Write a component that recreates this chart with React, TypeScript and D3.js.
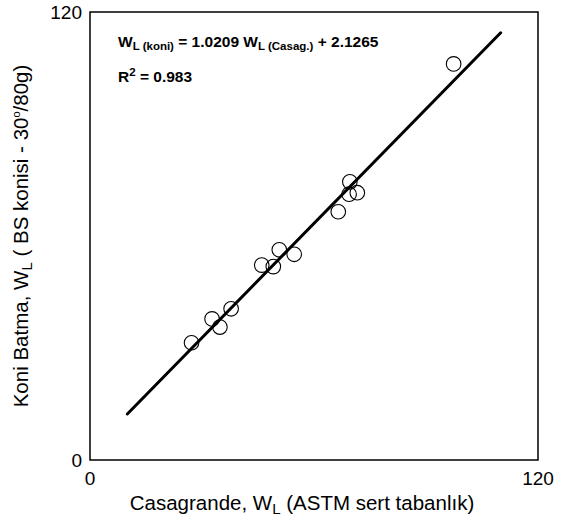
import React from "react";
import * as d3 from "d3";

// Liquid limit pairs: Casagrande cup (x) vs. BS fall cone (y)
const casagrande = [27.2, 32.7, 34.8, 37.8, 46.0, 49.1, 50.7, 54.7, 66.5, 69.4, 69.6, 71.6, 97.4];
const koni = [31.4, 37.8, 35.6, 40.5, 52.2, 51.8, 56.3, 55.1, 66.5, 71.2, 74.5, 71.6, 106.1];

// Regression fit
const slope = 1.0209;
const intercept = 2.1265;
const fitRange = [10, 110];

const axisDomain = [0, 120];
const xTicks = [0, 120];
const yTicks = [0, 120];

const W = 561;
const H = 526;
const frame = { left: 90, right: 538, top: 12, bottom: 460 };
const font = "'Liberation Sans', Arial, sans-serif";

export default function App() {
  const x = d3.scaleLinear().domain(axisDomain).range([frame.left, frame.right]);
  const y = d3.scaleLinear().domain(axisDomain).range([frame.bottom, frame.top]);

  const fitLine = d3
    .line<number>()
    .x((d) => x(d))
    .y((d) => y(slope * d + intercept))(fitRange);

  return (
    <svg
      width={W}
      height={H}
      style={{ position: "absolute", left: 0, top: 0, background: "#fff" }}
      fontFamily={font}
    >
      <rect x={0} y={0} width={W} height={H} fill="#fff" />
      <rect
        x={frame.left}
        y={frame.top}
        width={frame.right - frame.left}
        height={frame.bottom - frame.top}
        fill="none"
        stroke="#000"
        strokeWidth={1.5}
      />

      {/* tick labels */}
      {yTicks.map((t) => (
        <text key={"y" + t} x={82} y={y(t)} dy="0.36em" textAnchor="end" fontSize={19} fill="#000">
          {t}
        </text>
      ))}
      {xTicks.map((t) => (
        <text key={"x" + t} x={x(t)} y={485} textAnchor="middle" fontSize={19} fill="#000">
          {t}
        </text>
      ))}

      {/* regression line */}
      <path d={fitLine ?? ""} fill="none" stroke="#000" strokeWidth={3} strokeLinecap="round" />

      {/* observations */}
      {casagrande.map((c, i) => (
        <circle key={i} cx={x(c)} cy={y(koni[i])} r={7.3} fill="none" stroke="#000" strokeWidth={1.1} />
      ))}

      {/* equation */}
      <text x={118} y={47} fontSize={15.5} fontWeight="bold" fill="#000">
        W
        <tspan fontSize={11.5} dy={3}>L (koni)</tspan>
        <tspan dy={-3}> = 1.0209 W</tspan>
        <tspan fontSize={11.5} dy={3}>L (Casag.)</tspan>
        <tspan dy={-3}> + 2.1265</tspan>
      </text>
      <text x={118} y={82} fontSize={15.5} fontWeight="bold" fill="#000">
        R
        <tspan fontSize={11.5} dy={-6}>2</tspan>
        <tspan dy={6}> = 0.983</tspan>
      </text>

      {/* axis titles */}
      <text x={302} y={510} textAnchor="middle" fontSize={20.5} fill="#000">
        Casagrande, W
        <tspan fontSize={15} dy={4}>L</tspan>
        <tspan dy={-4}> (ASTM sert tabanlık)</tspan>
      </text>
      <text
        transform="translate(28,236) rotate(-90)"
        textAnchor="middle"
        fontSize={20.5}
        fill="#000"
      >
        Koni Batma, W
        <tspan fontSize={15} dy={4}>L</tspan>
        <tspan dy={-4}> ( BS konisi - 30</tspan>
        <tspan fontSize={11} dy={-8}>o</tspan>
        <tspan dy={8}>/80g)</tspan>
      </text>
    </svg>
  );
}
